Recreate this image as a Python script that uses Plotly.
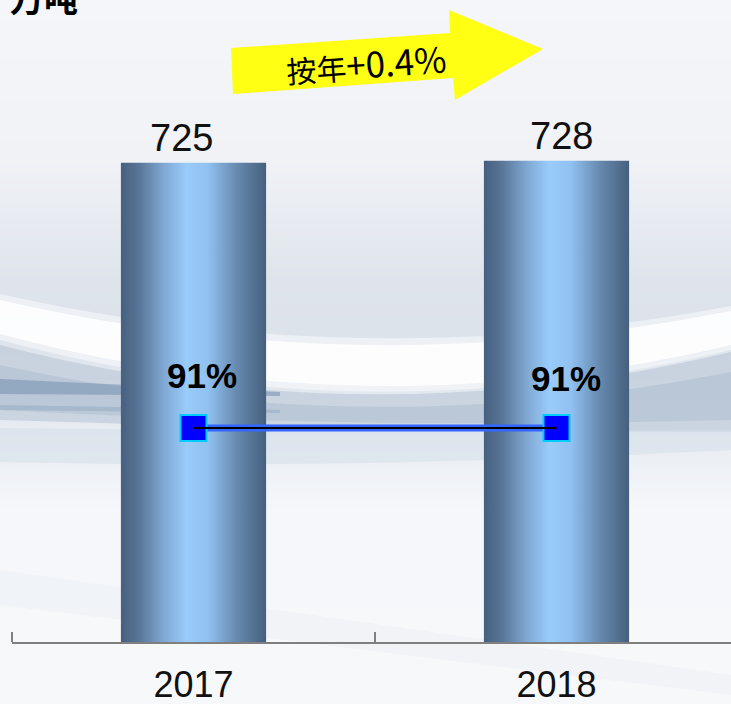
import plotly.graph_objects as go

# ---------------- data ----------------
years = ["2017", "2018"]
output = [725, 728]          # 万吨
rate = [91, 91]              # %
rate_labels = ["91%", "91%"]
value_labels = ["725", "728"]
growth_cn = "按年"
growth_num = "+0.4%"
unit_label = "万吨"

# ---------------- geometry helpers ----------------
W, H = 731, 704
ML, MR, MT, MB = 12, 0, 0, 62
PW, PH = W - ML - MR, H - MT - MB


def px(x):
    return (x - ML) / PW


def py(y):
    return (MT + PH - y) / PH


def path(pts, close=True):
    s = "M " + " L ".join(f"{px(x):.5f},{py(y):.5f}" for x, y in pts)
    return s + (" Z" if close else "")


def qpath(top, bottom):
    (a, b, c), (d, e, f) = top, bottom
    return (f"M {px(0):.5f},{py(a):.5f} Q {px(W/2):.5f},{py(b):.5f} {px(W):.5f},{py(c):.5f} "
            f"L {px(W):.5f},{py(f):.5f} Q {px(W/2):.5f},{py(e):.5f} {px(0):.5f},{py(d):.5f} Z")


shapes = []

# vertical background gradient
stops = [(0, (245, 246, 249)), (160, (240, 242, 246)), (280, (223, 228, 236)),
         (330, (221, 227, 235)), (440, (232, 237, 243)), (510, (246, 247, 250)),
         (704, (247, 248, 250))]


def col_at(y):
    for (y0, c0), (y1, c1) in zip(stops[:-1], stops[1:]):
        if y0 <= y <= y1:
            t = (y - y0) / (y1 - y0)
            return "rgb(%d,%d,%d)" % tuple(round(c0[k] + (c1[k] - c0[k]) * t) for k in range(3))
    return "rgb(%d,%d,%d)" % stops[-1][1]


step = 4
for y in range(0, H, step):
    shapes.append(dict(type="rect", xref="paper", yref="paper", layer="below",
                       x0=px(0), x1=px(W), y0=py(y), y1=py(y + step + 0.5),
                       fillcolor=col_at(y + step / 2), line=dict(width=0)))

# soft swooshes (layered translucent bands)
shapes += [
    dict(type="path", xref="paper", yref="paper", layer="below",
         path=qpath((345, 440, 352), (420, 432, 432)),
         fillcolor="#b4c2d4", opacity=0.55, line=dict(width=0)),
    dict(type="path", xref="paper", yref="paper", layer="below",
         path=qpath((365, 445, 372), (410, 430, 420)),
         fillcolor="#a6b7cc", opacity=0.45, line=dict(width=0)),
    dict(type="path", xref="paper", yref="paper", layer="below",
         path=qpath((428, 432, 430), (462, 470, 450)),
         fillcolor="#d6dfea", opacity=0.6, line=dict(width=0)),
    dict(type="path", xref="paper", yref="paper", layer="below",
         path=path([(0, 379), (280, 392), (280, 396), (0, 394)]),
         fillcolor="#7a92b2", opacity=0.6, line=dict(width=0)),
    dict(type="path", xref="paper", yref="paper", layer="below",
         path=path([(0, 405), (280, 410), (280, 413), (0, 410)]),
         fillcolor="#8aa0bc", opacity=0.4, line=dict(width=0)),
    dict(type="path", xref="paper", yref="paper", layer="below",
         path=qpath((294, 376, 306), (340, 438, 350)),
         fillcolor="#ffffff", opacity=0.45, line=dict(width=0)),
    dict(type="path", xref="paper", yref="paper", layer="below",
         path=qpath((300, 384, 311), (334, 432, 345)),
         fillcolor="#ffffff", opacity=0.85, line=dict(width=0)),
    dict(type="path", xref="paper", yref="paper", layer="below",
         path=path([(0, 570), (731, 675), (731, 695), (0, 605)]),
         fillcolor="#e6eaf0", opacity=0.35, line=dict(width=0)),
]

# yellow arrow
arrow_pts = [(231, 48), (450, 33), (449, 10), (543, 49), (455, 100), (453, 78), (233, 94)]
shapes.append(dict(type="path", xref="paper", yref="paper", layer="above",
                   path=path(arrow_pts), fillcolor="#ffff14", line=dict(width=0)))

# ---------------- traces ----------------
bar_w = 0.4
cyl = [[0.0, "#46607f"], [0.12, "#587496"], [0.3, "#80a9d4"], [0.45, "#99cbfb"],
       [0.6, "#90c1f0"], [0.8, "#6689ae"], [1.0, "#46607e"]]

fig = go.Figure()
for i, v in enumerate(output):
    fig.add_trace(go.Scatter(
        x=[i - bar_w / 2, i + bar_w / 2, i + bar_w / 2, i - bar_w / 2, i - bar_w / 2],
        y=[0, 0, v, v, 0], mode="lines", fill="toself",
        fillgradient=dict(type="horizontal", colorscale=cyl),
        line=dict(width=0), hoverinfo="skip", showlegend=False))

fig.add_trace(go.Scatter(
    x=list(range(len(years))), y=rate, yaxis="y2", mode="lines+markers",
    line=dict(color="#3366ff", width=7),
    marker=dict(symbol="square", size=26, color="#0000ff", line=dict(color="#00ccff", width=2)),
    showlegend=False, hoverinfo="skip"))
fig.add_trace(go.Scatter(
    x=list(range(len(years))), y=rate, yaxis="y2", mode="lines",
    line=dict(color="#000000", width=2), showlegend=False, hoverinfo="skip"))

# ---------------- annotations ----------------
ann = []
val_shift = [-12, 5]
for i, v in enumerate(output):
    ann.append(dict(x=i, y=v, xref="x", yref="y", text=value_labels[i], showarrow=False,
                    yanchor="bottom", xshift=val_shift[i], yshift=2,
                    font=dict(family="Liberation Sans, Arial, sans-serif", size=38, color="#111111")))
rate_shift = [(8, 53), (9, 50)]
for i, r in enumerate(rate):
    ann.append(dict(x=i, y=r, xref="x", yref="y2", text=f"<b>{rate_labels[i]}</b>", showarrow=False,
                    xshift=rate_shift[i][0], yshift=rate_shift[i][1],
                    font=dict(family="Liberation Sans, Arial, sans-serif", size=35, color="#000000")))
ann.append(dict(x=px(366), y=py(63), xref="paper", yref="paper",
                text=f"{growth_cn}<span style='font-size:35px'>{growth_num}</span>",
                showarrow=False, xanchor="center", yanchor="middle", textangle=-4,
                font=dict(family="Noto Sans CJK SC, sans-serif", size=30, color="#000000")))
ann.append(dict(x=px(8), y=py(24), xref="paper", yref="paper", text=f"<b>{unit_label}</b>",
                showarrow=False, xanchor="left", yanchor="bottom",
                font=dict(family="Noto Sans CJK SC, sans-serif", size=34, color="#000000")))

fig.update_layout(
    width=W, height=H,
    margin=dict(l=ML, r=MR, t=MT, b=MB, pad=0, autoexpand=False),
    paper_bgcolor="#f4f5f8", plot_bgcolor="rgba(0,0,0,0)",
    shapes=shapes, annotations=ann, showlegend=False, hovermode=False,
    xaxis=dict(range=[-0.5, -0.5 + PW / 363.0], tickvals=list(range(len(years))), ticktext=years,
               ticks="", showgrid=False, zeroline=False, showline=True, automargin=False,
               linecolor="#7f7f7f", linewidth=2,
               minor=dict(tickmode="array", tickvals=[-0.5, 0.5, 1.5], ticks="inside",
                          ticklen=10, tickcolor="#7f7f7f", tickwidth=1.5, showgrid=False),
               ticklabelstandoff=10,
               tickfont=dict(family="Liberation Sans, Arial, sans-serif",
                             size=36, color="#111111")),
    yaxis=dict(range=[0, 971], visible=False, showgrid=False, zeroline=False),
    yaxis2=dict(range=[0, 273], overlaying="y", visible=False, showgrid=False, zeroline=False),
)

fig.write_html("out.html", config={"displayModeBar": False},
               post_script="document.body.style.margin='0';document.body.style.overflow='hidden';")
